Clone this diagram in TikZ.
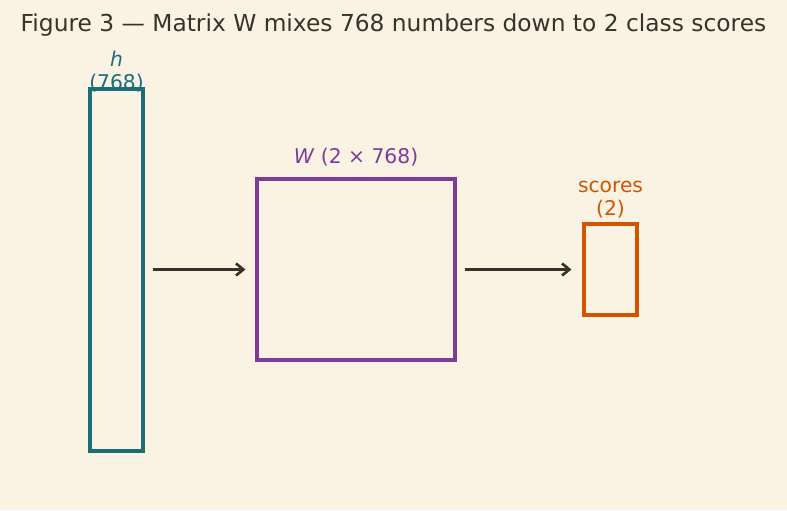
\documentclass[tikz,border=0pt]{standalone}
\usepackage{fontspec}
\setmainfont{DejaVu Sans}
\usetikzlibrary{arrows.meta,positioning}
\definecolor{paperc}{RGB}{250,243,227}
\definecolor{inkc}{RGB}{58,50,42}
\definecolor{hc}{RGB}{27,110,120}
\definecolor{wc}{RGB}{125,60,152}
\definecolor{sc}{RGB}{211,84,0}

\tikzset{
  vecbox/.style={draw,line width=2.3pt,inner sep=0pt},
  flow/.style={draw=inkc,line width=2pt,-{Straight Barb[length=5.5pt,width=9pt,line width=2pt]}},
  lbl/.style={font=\fontsize{15.2}{17.3}\selectfont,align=center,inner sep=0pt}
}

\begin{document}
\begin{tikzpicture}[x=0.75pt,y=-0.75pt]
\useasboundingbox[fill=paperc] (0,0) rectangle (787,510);

\node[font=\fontsize{17.5}{20}\selectfont,text=inkc] (title) at (393.5,25)
  {Figure 3 — Matrix W mixes 768 numbers down to 2 class scores};

% --- the three blocks
\node[vecbox,draw=hc,minimum width=53*0.75pt,minimum height=362*0.75pt] (h) at (116.5,270) {};
\node[vecbox,draw=wc,minimum width=198*0.75pt,minimum height=181*0.75pt] (W) at (356,269.5) {};
\node[vecbox,draw=sc,minimum width=53*0.75pt,minimum height=91*0.75pt] (s) at (610.5,269.5) {};

% labels
\node[lbl,text=hc] (hlbl) at (116.5,71.5) {\textit{h}\\(768)};
\node[lbl,text=wc] (Wlbl) at (356,157) {\textit{W} (2 × 768)};
\node[lbl,text=sc] (slbl) at (610.5,199.5) {scores\\(2)};

% --- flow
\draw[flow,shorten <=8*0.75pt,shorten >=10*0.75pt] (h.east |- W.west) -- (W.west);
\draw[flow,shorten <=8*0.75pt,shorten >=11*0.75pt] (W.east) -- (s.west);
\end{tikzpicture}
\end{document}
